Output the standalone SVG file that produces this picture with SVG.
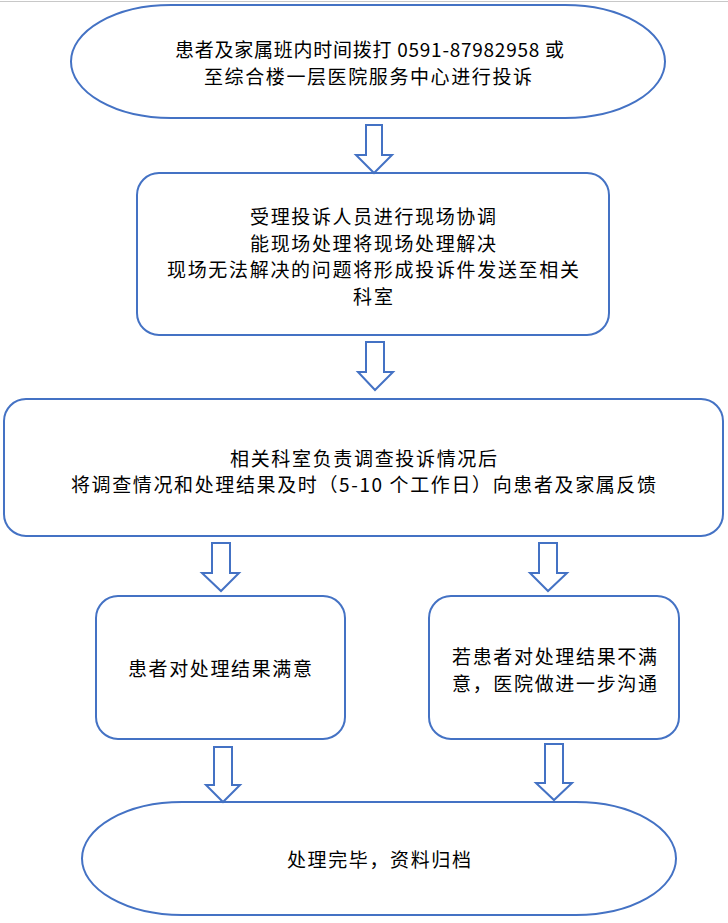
<svg xmlns="http://www.w3.org/2000/svg" width="728" height="923" viewBox="0 0 728 923">
<style>
.shape{fill:#fff;stroke:#4472C4;stroke-width:2}
.arrow{fill:#fff;stroke:#4472C4;stroke-width:2;stroke-linejoin:miter}
text{font-family:"Noto Sans CJK SC","Noto Sans",sans-serif;font-size:19px;fill:#000;dominant-baseline:central}
.c{text-anchor:middle}
</style>
<rect x="0" y="0" width="728" height="923" fill="#fff"/>
<line x1="0" y1="1.5" x2="728" y2="1.5" stroke="#c8c8c8" stroke-width="1"/>
<g id="n1">
<rect class="shape" x="71" y="5" width="594" height="113" rx="100" ry="56.5"/>
<text class="c" x="369.5" y="48" textLength="389" lengthAdjust="spacing">患者及家属班内时间拨打 0591-87982958 或</text>
<text class="c" x="368" y="75" textLength="328" lengthAdjust="spacing">至综合楼一层医院服务中心进行投诉</text>
</g>
<g id="n2">
<rect class="shape" x="137" y="173" width="472" height="162" rx="22"/>
<text class="c" x="373" y="215" textLength="246" lengthAdjust="spacing">受理投诉人员进行现场协调</text>
<text class="c" x="373" y="242" textLength="246" lengthAdjust="spacing">能现场处理将现场处理解决</text>
<text class="c" x="373" y="268" textLength="412" lengthAdjust="spacing">现场无法解决的问题将形成投诉件发送至相关</text>
<text class="c" x="373" y="295" textLength="40" lengthAdjust="spacing">科室</text>
</g>
<g id="n3">
<rect class="shape" x="4" y="399" width="719" height="137" rx="22"/>
<text class="c" x="363.5" y="457" textLength="267" lengthAdjust="spacing">相关科室负责调查投诉情况后</text>
<text class="c" x="363.5" y="483" textLength="585" lengthAdjust="spacing">将调查情况和处理结果及时（5-10 个工作日）向患者及家属反馈</text>
</g>
<g id="n4">
<rect class="shape" x="96" y="596" width="249" height="143" rx="22"/>
<text class="c" x="220" y="667" textLength="184" lengthAdjust="spacing">患者对处理结果满意</text>
</g>
<g id="n5">
<rect class="shape" x="429" y="596" width="250" height="143" rx="22"/>
<text x="452" y="655" textLength="205" lengthAdjust="spacing">若患者对处理结果不满</text>
<text x="452" y="682" textLength="205" lengthAdjust="spacing">意，医院做进一步沟通</text>
</g>
<g id="n6">
<rect class="shape" x="82" y="802" width="594" height="113" rx="100" ry="56.5"/>
<text class="c" x="379" y="858" textLength="184" lengthAdjust="spacing">处理完毕，资料归档</text>
</g>
<g id="connectors">
<path class="arrow" d="M366,125 H382 V155 H392 L374,173 L356,155 H366 Z"/>
<path class="arrow" d="M366,342 H384 V372 H393 L375,390 L358,372 H366 Z"/>
<path class="arrow" d="M212,543 H230 V573 H239 L221,591 L202,573 H212 Z"/>
<path class="arrow" d="M539,543 H557 V573 H567 L548,591 L530,573 H539 Z"/>
<path class="arrow" d="M214,747 H232 V785 H240 L223,802 L206,785 H214 Z"/>
<path class="arrow" d="M545,744 H563 V783 H572 L554,800 L536,783 H545 Z"/>
</g>
</svg>
